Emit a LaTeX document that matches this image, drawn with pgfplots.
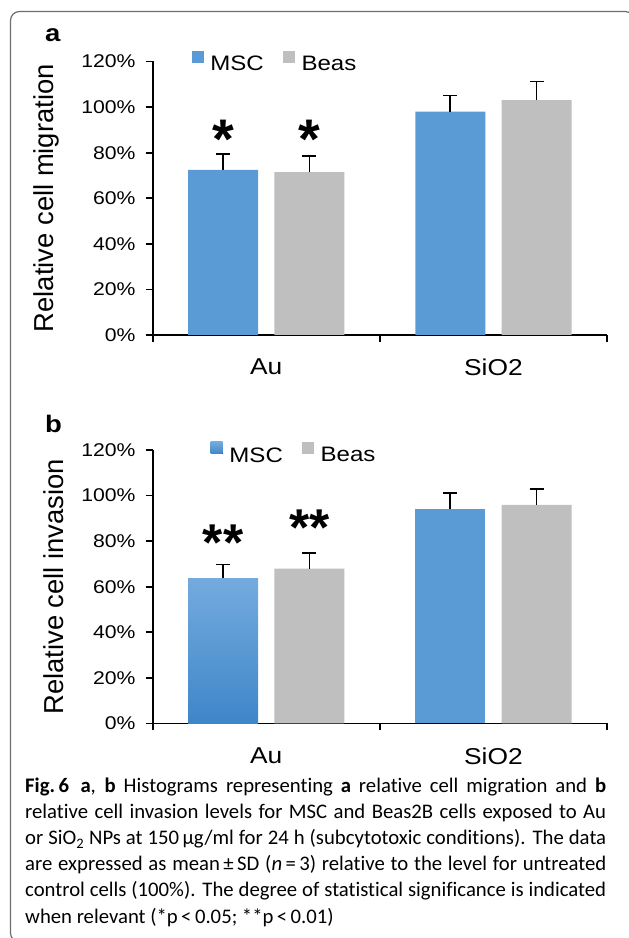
\documentclass[border=0pt]{standalone}
\usepackage{fontspec}
\usepackage{pgfplots}
\pgfplotsset{compat=1.18}
\setmainfont{Liberation Sans}
\newfontfamily\chartfont{Liberation Sans}[FakeStretch=1.15]
\newfontfamily\ylfont{Liberation Sans}
\newfontfamily\capfont{Carlito}[Ligatures=NoCommon]
\definecolor{msc}{HTML}{5B9BD5}
\definecolor{beas}{HTML}{BFBFBF}
\definecolor{msctop}{HTML}{74ABDE}
\definecolor{mscbot}{HTML}{3E86C9}
\definecolor{framec}{HTML}{6E6E6E}

\pgfplotsset{
  sqlegend/.style={legend image code/.code={\fill[##1] (0bp,1.5bp) rectangle (12bp,13.5bp);}},
  errs/.style={error bars/.cd, y dir=plus, y explicit,
     error bar style={line width=1.8bp,black,solid},
     error mark options={rotate=90, mark size=7bp, line width=1.8bp, black}},
  mybars/.style={
    scale only axis, width=454.3bp, height=273.5bp,
    xmin=0, xmax=2, ymin=0, ymax=120,
    axis x line*=bottom, axis y line*=left,
    axis line style={line width=1.8bp, black},
    tick style={line width=1.8bp, black},
    tick align=outside, major tick length=7bp,
    xtick={0,1,2}, xticklabels={Au,SiO2}, x tick label as interval,
    ytick={0,20,40,60,80,100,120},
    yticklabels={0\%,20\%,40\%,60\%,80\%,100\%,120\%},
    yticklabel style={font=\chartfont\fontsize{18.5}{20}\selectfont, inner sep=0pt, xshift=-10bp},
    xticklabel style={font=\chartfont\fontsize{23}{25}\selectfont, inner sep=0pt, yshift=-17bp},
    ybar, bar width=0.308,
    legend columns=2,
    legend cell align=left,
    legend style={draw=none, fill=none, inner sep=0pt, outer sep=0pt,
      font=\chartfont\fontsize{21}{23}\selectfont,
      nodes={inner sep=0pt},
      /tikz/every odd column/.append style={column sep=6.7bp},
      /tikz/every even column/.append style={column sep=19bp}},
  }
}

\newcommand\capline[3]{\node[anchor=base west, inner sep=0pt, font=\capfont\fontsize{20.8}{26}\selectfont] at (25bp,#1bp) {#2{#3}};}
\newcommand\full[1]{\makebox[581bp][s]{#1}}

\begin{document}
\begin{tikzpicture}
\useasboundingbox (0bp,0bp) rectangle (629bp,938bp);
\clip (0bp,0bp) rectangle (629bp,938bp);
\draw[framec, line width=1.2bp, rounded corners=9bp] (10.5bp,926.5bp) rectangle (634bp,-4bp);

\node[anchor=base west, inner sep=0pt, font=\chartfont\bfseries\fontsize{24}{26}\selectfont] at (45bp,896bp) {a};
\node[anchor=base west, inner sep=0pt, font=\chartfont\bfseries\fontsize{24}{26}\selectfont] at (45bp,505bp) {b};

% Panel a
\begin{axis}[mybars, at={(152.7bp,603bp)}, anchor=origin,
  ylabel={Relative cell migration},
  ylabel style={font=\ylfont\fontsize{27.5}{30}\selectfont, at={(axis description cs:-0.218,0.5)}, anchor=base},
  legend style={at={(axis description cs:0.0858,1.0)}, anchor=west}]
\addplot[fill=msc, draw=none, bar shift=-0.19, sqlegend, errs] coordinates {(0.5,72.5) +- (0,7.0) (1.5,98.0) +- (0,7.1)};
\addplot[fill=beas, draw=none, bar shift=0.19, sqlegend, errs] coordinates {(0.5,71.5) +- (0,7.1) (1.5,103.0) +- (0,8.2)};
\legend{MSC,Beas}
\node[font=\bfseries\fontsize{56}{60}\selectfont, anchor=base, inner sep=0pt, yshift=-32bp] at (axis cs:0.31,91.5) {*};
\node[font=\bfseries\fontsize{56}{60}\selectfont, anchor=base, inner sep=0pt, yshift=-32bp] at (axis cs:0.69,91.5) {*};
\end{axis}

% Panel b
\begin{axis}[mybars, at={(152.7bp,214.5bp)}, anchor=origin,
  ylabel={Relative cell invasion},
  ylabel style={font=\ylfont\fontsize{27.5}{30}\selectfont, at={(axis description cs:-0.197,0.5)}, anchor=base},
  legend style={at={(axis description cs:0.1277,0.99)}, anchor=west}]
\addplot[top color=msctop, bottom color=mscbot, draw=none, bar shift=-0.19, sqlegend, errs] coordinates {(0.5,63.8) +- (0,6.0)};
\addplot[fill=msc, draw=none, bar shift=-0.19, forget plot, errs] coordinates {(1.5,94.0) +- (0,7.3)};
\addplot[fill=beas, draw=none, bar shift=0.19, sqlegend, errs] coordinates {(0.5,67.9) +- (0,6.9) (1.5,95.9) +- (0,7.0)};
\legend{MSC,Beas}
\node[font=\bfseries\fontsize{52}{56}\selectfont, anchor=base, inner sep=0pt, yshift=-30bp] at (axis cs:0.31,84.7) {**};
\node[font=\bfseries\fontsize{52}{56}\selectfont, anchor=base, inner sep=0pt, yshift=-30bp] at (axis cs:0.69,91.2) {**};
\end{axis}

% Caption
\capline{145}{\full}{\textbf{Fig.\,6}\hspace{0.55em}\textbf{a}, \textbf{b} Histograms representing \textbf{a} relative cell migration and \textbf{b}}
\capline{119}{\full}{relative cell invasion levels for MSC and Beas2B cells exposed to Au}
\capline{93}{\full}{or SiO\textsubscript{2} NPs at 150\,µg/ml for 24 h (subcytotoxic conditions). The data}
\capline{67}{\full}{are expressed as mean\,±\,SD (\textit{n}\,=\,3) relative to the level for untreated}
\capline{41}{\full}{control cells (100\%). The degree of statistical significance is indicated}
\capline{15}{\relax}{when relevant (*p\,<\,0.05; **p\,<\,0.01)}
\end{tikzpicture}
\end{document}
